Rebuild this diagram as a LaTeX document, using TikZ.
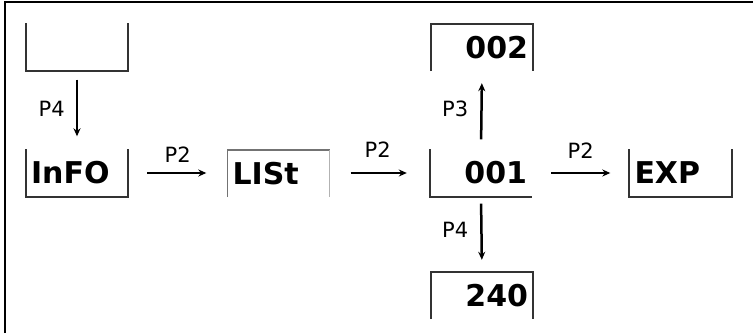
\documentclass[tikz,border=0pt]{standalone}
\usepackage{fontspec}
\setmainfont{DejaVu Sans}
\usetikzlibrary{arrows.meta}
\begin{document}
\begin{tikzpicture}[x=1pt,y=-1pt,
  box/.style={minimum height=47pt, inner xsep=5pt, inner ysep=0pt, text width=92pt,
              font=\fontsize{30}{31}\selectfont\bfseries, draw=none},
  side/.style={line width=1.8pt, draw=black!80},
  faint/.style={line width=1.5pt, draw=black!55},
  conn/.style={line width=2.5pt, -{Stealth[length=8pt,width=7pt]}},
  lbl/.style={font=\fontsize{21}{22}\selectfont, inner sep=0pt}]
\useasboundingbox (0,0) rectangle (753,333);
\draw[line width=2pt] (5,333) -- (5,2) -- (753,2);

\node[box, align=left]  (b0)   at (77,47)    {};
\node[box, align=left]  (info) at (77,173)   {InFO};
\node[box, align=left]  (lst)  at (278.5,173.5) {LISt};
\node[box, align=right] (o1)   at (481,173)  {001};
\node[box, align=right] (o2)   at (482,47.5) {002};
\node[box, align=right] (o3)   at (482,295.5){240};
\node[box, align=left]  (exp)  at (680.5,173){EXP};

\draw[side] (b0.north west) -- (b0.south west) -- (b0.south east) -- (b0.north east);
\draw[side] (info.north west) -- (info.south west) -- (info.south east) -- (info.north east);
\draw[faint] (lst.south west) -- (lst.north west) -- (lst.north east);
\draw[line width=1.2pt, draw=black!30] (lst.north east) -- (lst.south east);
\draw[side] (o1.north west) -- (o1.south west) -- (o1.south east);
\draw[side] (o2.south west) -- (o2.north west) -- (o2.north east) -- (o2.south east);
\draw[side] (o3.south west) -- (o3.north west) -- (o3.north east) -- (o3.south east);
\draw[side] (exp.north west) -- (exp.south west) -- (exp.south east) -- (exp.north east);

\draw[conn, shorten <=9pt, shorten >=13pt] (b0.south) -- (info.north)
  node[lbl, midway, anchor=base east, xshift=-11pt, yshift=-6.5pt] {P4};
\draw[conn, shorten <=19pt, shorten >=21pt] (info.east) -- (info.east -| lst.west)
  node[lbl, midway, anchor=base, yshift=11pt] {P2};
\draw[conn, shorten <=21pt, shorten >=23pt] (lst.east |- o1.west) -- (o1.west)
  node[lbl, midway, anchor=base, xshift=-2pt, yshift=16pt] {P2};
\draw[conn, shorten <=19pt, shorten >=19pt] (o1.east) -- (exp.west)
  node[lbl, midway, anchor=base, yshift=15pt] {P2};
\draw[conn, shorten <=10pt, shorten >=12pt] (o1.north) -- (o2.south)
  node[lbl, midway, anchor=base east, xshift=-12pt, yshift=-6.5pt] {P3};
\draw[conn, shorten <=7pt, shorten >=12pt] (o1.south) -- (o3.north)
  node[lbl, midway, anchor=base east, xshift=-12pt, yshift=-3pt] {P4};
\end{tikzpicture}
\end{document}
